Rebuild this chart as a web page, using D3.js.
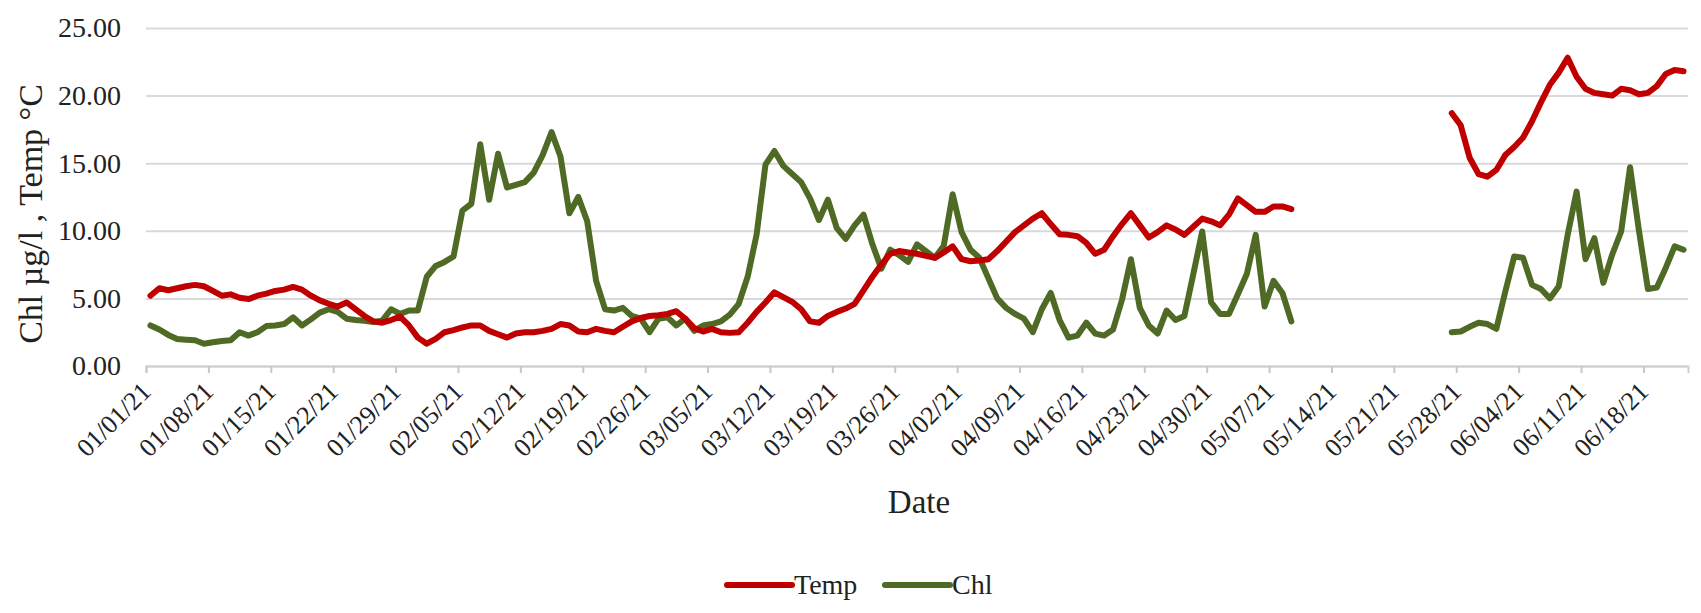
<!DOCTYPE html>
<html>
<head>
<meta charset="utf-8">
<script src="https://cdn.jsdelivr.net/npm/d3@7"></script>
<style>
  html, body { margin: 0; padding: 0; background: #ffffff; }
  svg { display: block; }
  text { font-family: "Liberation Serif", "Times New Roman", serif; fill: #222222; }
</style>
</head>
<body>
<svg id="chart" width="1701" height="613"></svg>
<script>
// Daily series, first day 01/01/21; null marks days without a measurement.
const firstDay = "01/01/21";

const tempValues = [
  5.2, 5.75, 5.6, 5.75, 5.9, 6.0, 5.9, 5.55, 5.2, 5.3,
  5.05, 4.95, 5.2, 5.35, 5.55, 5.65, 5.85, 5.65, 5.2, 4.85,
  4.6, 4.4, 4.7, 4.2, 3.7, 3.3, 3.2, 3.4, 3.65, 3.0,
  2.1, 1.65, 2.0, 2.5, 2.65, 2.85, 3.0, 3.0, 2.6, 2.35,
  2.1, 2.4, 2.5, 2.5, 2.6, 2.75, 3.1, 3.0, 2.55, 2.5,
  2.75, 2.6, 2.5, 2.9, 3.3, 3.55, 3.7, 3.75, 3.85, 4.05,
  3.5, 2.8, 2.55, 2.75, 2.5, 2.45, 2.5, 3.2, 4.0, 4.7,
  5.45, 5.1, 4.75, 4.2, 3.3, 3.2, 3.7, 4.0, 4.25, 4.6,
  5.6, 6.6, 7.5, 8.3, 8.5, 8.4, 8.3, 8.15, 8.0, 8.4,
  8.85, 7.9, 7.75, 7.8, 7.9, 8.5, 9.2, 9.9, 10.4, 10.9,
  11.3, 10.5, 9.75, 9.7, 9.6, 9.1, 8.3, 8.6, 9.6, 10.5,
  11.3, 10.4, 9.5, 9.9, 10.4, 10.1, 9.7, 10.3, 10.9, 10.7,
  10.4, 11.2, 12.4, 11.9, 11.4, 11.4, 11.8, 11.8, 11.6,
  null, null, null, null, null, null, null, null, null, null,
  null, null, null, null, null, null, null,
  18.7, 17.8, 15.4, 14.2, 14.0, 14.5, 15.6, 16.2, 16.9, 18.1,
  19.5, 20.8, 21.7, 22.8, 21.4, 20.5, 20.2, 20.1, 20.0, 20.5,
  20.4, 20.1, 20.2, 20.7, 21.6, 21.9, 21.8
];

const chlValues = [
  3.0, 2.7, 2.3, 2.0, 1.95, 1.9, 1.65, 1.75, 1.85, 1.9,
  2.5, 2.25, 2.5, 2.95, 3.0, 3.1, 3.6, 3.0, 3.45, 3.95,
  4.2, 4.0, 3.5, 3.4, 3.35, 3.25, 3.35, 4.2, 3.85, 4.1,
  4.1, 6.6, 7.4, 7.7, 8.1, 11.5, 12.0, 16.4, 12.3, 15.7,
  13.2, 13.4, 13.6, 14.3, 15.6, 17.3, 15.5, 11.3, 12.5, 10.7,
  6.3, 4.2, 4.1, 4.3, 3.7, 3.5, 2.5, 3.5, 3.6, 3.0,
  3.5, 2.6, 3.0, 3.1, 3.3, 3.8, 4.6, 6.6, 9.7, 14.9,
  15.9, 14.8, 14.2, 13.6, 12.4, 10.8, 12.3, 10.2, 9.4, 10.4,
  11.2, 9.0, 7.2, 8.6, 8.2, 7.7, 9.0, 8.5, 8.0, 8.9,
  12.7, 9.9, 8.6, 8.0, 6.5, 5.0, 4.3, 3.85, 3.5, 2.5,
  4.2, 5.4, 3.4, 2.1, 2.25, 3.2, 2.4, 2.25, 2.7, 4.9,
  7.9, 4.3, 3.0, 2.4, 4.1, 3.4, 3.7, 6.8, 9.95, 4.7,
  3.85, 3.85, 5.3, 6.8, 9.7, 4.4, 6.3, 5.4, 3.3,
  null, null, null, null, null, null, null, null, null, null,
  null, null, null, null, null, null, null,
  2.5, 2.55, 2.9, 3.2, 3.1, 2.75, 5.5, 8.1, 8.0, 6.0,
  5.7, 5.0, 5.9, 9.7, 12.9, 7.9, 9.45, 6.15, 8.25, 9.95,
  14.7, 10.0, 5.7, 5.8, 7.25, 8.85, 8.6
];

const xTickLabels = [
  "01/01/21", "01/08/21", "01/15/21", "01/22/21", "01/29/21",
  "02/05/21", "02/12/21", "02/19/21", "02/26/21", "03/05/21",
  "03/12/21", "03/19/21", "03/26/21", "04/02/21", "04/09/21",
  "04/16/21", "04/23/21", "04/30/21", "05/07/21", "05/14/21",
  "05/21/21", "05/28/21", "06/04/21", "06/11/21", "06/18/21"
];
const yTicks = [0, 5, 10, 15, 20, 25];

const seriesNames = ["Temp", "Chl"];
const seriesColors = ["#C00000", "#4F6A24"];

// ---- layout ----
const svg = d3.select("#chart");
const plot = { left: 146, right: 1688, top: 28, bottom: 366 };

const parseDate = d3.utcParse("%m/%d/%y");
const start = parseDate(firstDay);
const dayCount = tempValues.length;
const dates = d3.range(dayCount).map(i => d3.utcDay.offset(start, i));

// Each day occupies one slot; points sit in the middle of their slot.
const x = d3.scaleUtc()
  .domain([start, d3.utcDay.offset(start, dayCount)])
  .range([plot.left, plot.right]);
const y = d3.scaleLinear().domain([0, 25]).range([plot.bottom, plot.top]);
const xMid = dt => x(d3.utcHour.offset(dt, 12));

// ---- horizontal gridlines + y labels ----
const yAxis = d3.axisLeft(y)
  .tickValues(yTicks)
  .tickSize(-(plot.right - plot.left))
  .tickPadding(25)
  .tickFormat(d3.format(".2f"));

const gy = svg.append("g")
  .attr("transform", `translate(${plot.left},0)`)
  .call(yAxis);
gy.select(".domain").remove();
gy.selectAll(".tick line")
  .attr("stroke", "#D9D9D9")
  .attr("stroke-width", 2);
gy.selectAll(".tick text")
  .attr("font-size", 28)
  .attr("fill", "#222");

// ---- x axis ----
const tickDates = xTickLabels.map(parseDate);
const xAxis = d3.axisBottom(x)
  .tickValues(tickDates)
  .tickSize(7)
  .tickFormat((d, i) => xTickLabels[i]);

const gx = svg.append("g")
  .attr("transform", `translate(0,${plot.bottom})`)
  .call(xAxis);
gx.select(".domain")
  .attr("stroke", "#D0D0D0")
  .attr("stroke-width", 2);
gx.selectAll(".tick line")
  .attr("stroke", "#C8C8C8")
  .attr("stroke-width", 2);
gx.selectAll(".tick text")
  .attr("font-size", 26)
  .attr("fill", "#222")
  .attr("x", 0)
  .attr("y", 0)
  .attr("dy", 0)
  .attr("text-anchor", "end")
  .attr("transform", "translate(6,27) rotate(-45)");

// ---- series lines ----
const line = d3.line()
  .defined(d => d.v != null)
  .x(d => xMid(d.date))
  .y(d => y(d.v));

const series = [tempValues, chlValues].map((vals, k) => ({
  name: seriesNames[k],
  color: seriesColors[k],
  points: vals.map((v, i) => ({ date: dates[i], v }))
}));

svg.append("g")
  .selectAll("path")
  .data(series.slice().reverse())
  .join("path")
  .attr("fill", "none")
  .attr("stroke", d => d.color)
  .attr("stroke-width", 6)
  .attr("stroke-linejoin", "round")
  .attr("stroke-linecap", "round")
  .attr("d", d => line(d.points));

// ---- axis titles ----
svg.append("text")
  .attr("transform", "translate(42,214) rotate(-90)")
  .attr("text-anchor", "middle")
  .attr("font-size", 34)
  .text("Chl µg/l , Temp °C");

svg.append("text")
  .attr("x", (plot.left + plot.right) / 2 + 2)
  .attr("y", 513)
  .attr("text-anchor", "middle")
  .attr("font-size", 33)
  .text("Date");

// ---- legend ----
const legendItems = [
  { name: seriesNames[0], color: seriesColors[0], x0: 727 },
  { name: seriesNames[1], color: seriesColors[1], x0: 885 }
];
const lg = svg.append("g").attr("transform", "translate(0,585)");
const li = lg.selectAll("g").data(legendItems).join("g")
  .attr("transform", d => `translate(${d.x0},0)`);
li.append("line")
  .attr("x1", 0).attr("x2", 65)
  .attr("y1", 0).attr("y2", 0)
  .attr("stroke", d => d.color)
  .attr("stroke-width", 6)
  .attr("stroke-linecap", "round");
li.append("text")
  .attr("x", 67)
  .attr("y", 0)
  .attr("dy", "0.33em")
  .attr("font-size", 28)
  .text(d => d.name);
</script>
</body>
</html>
